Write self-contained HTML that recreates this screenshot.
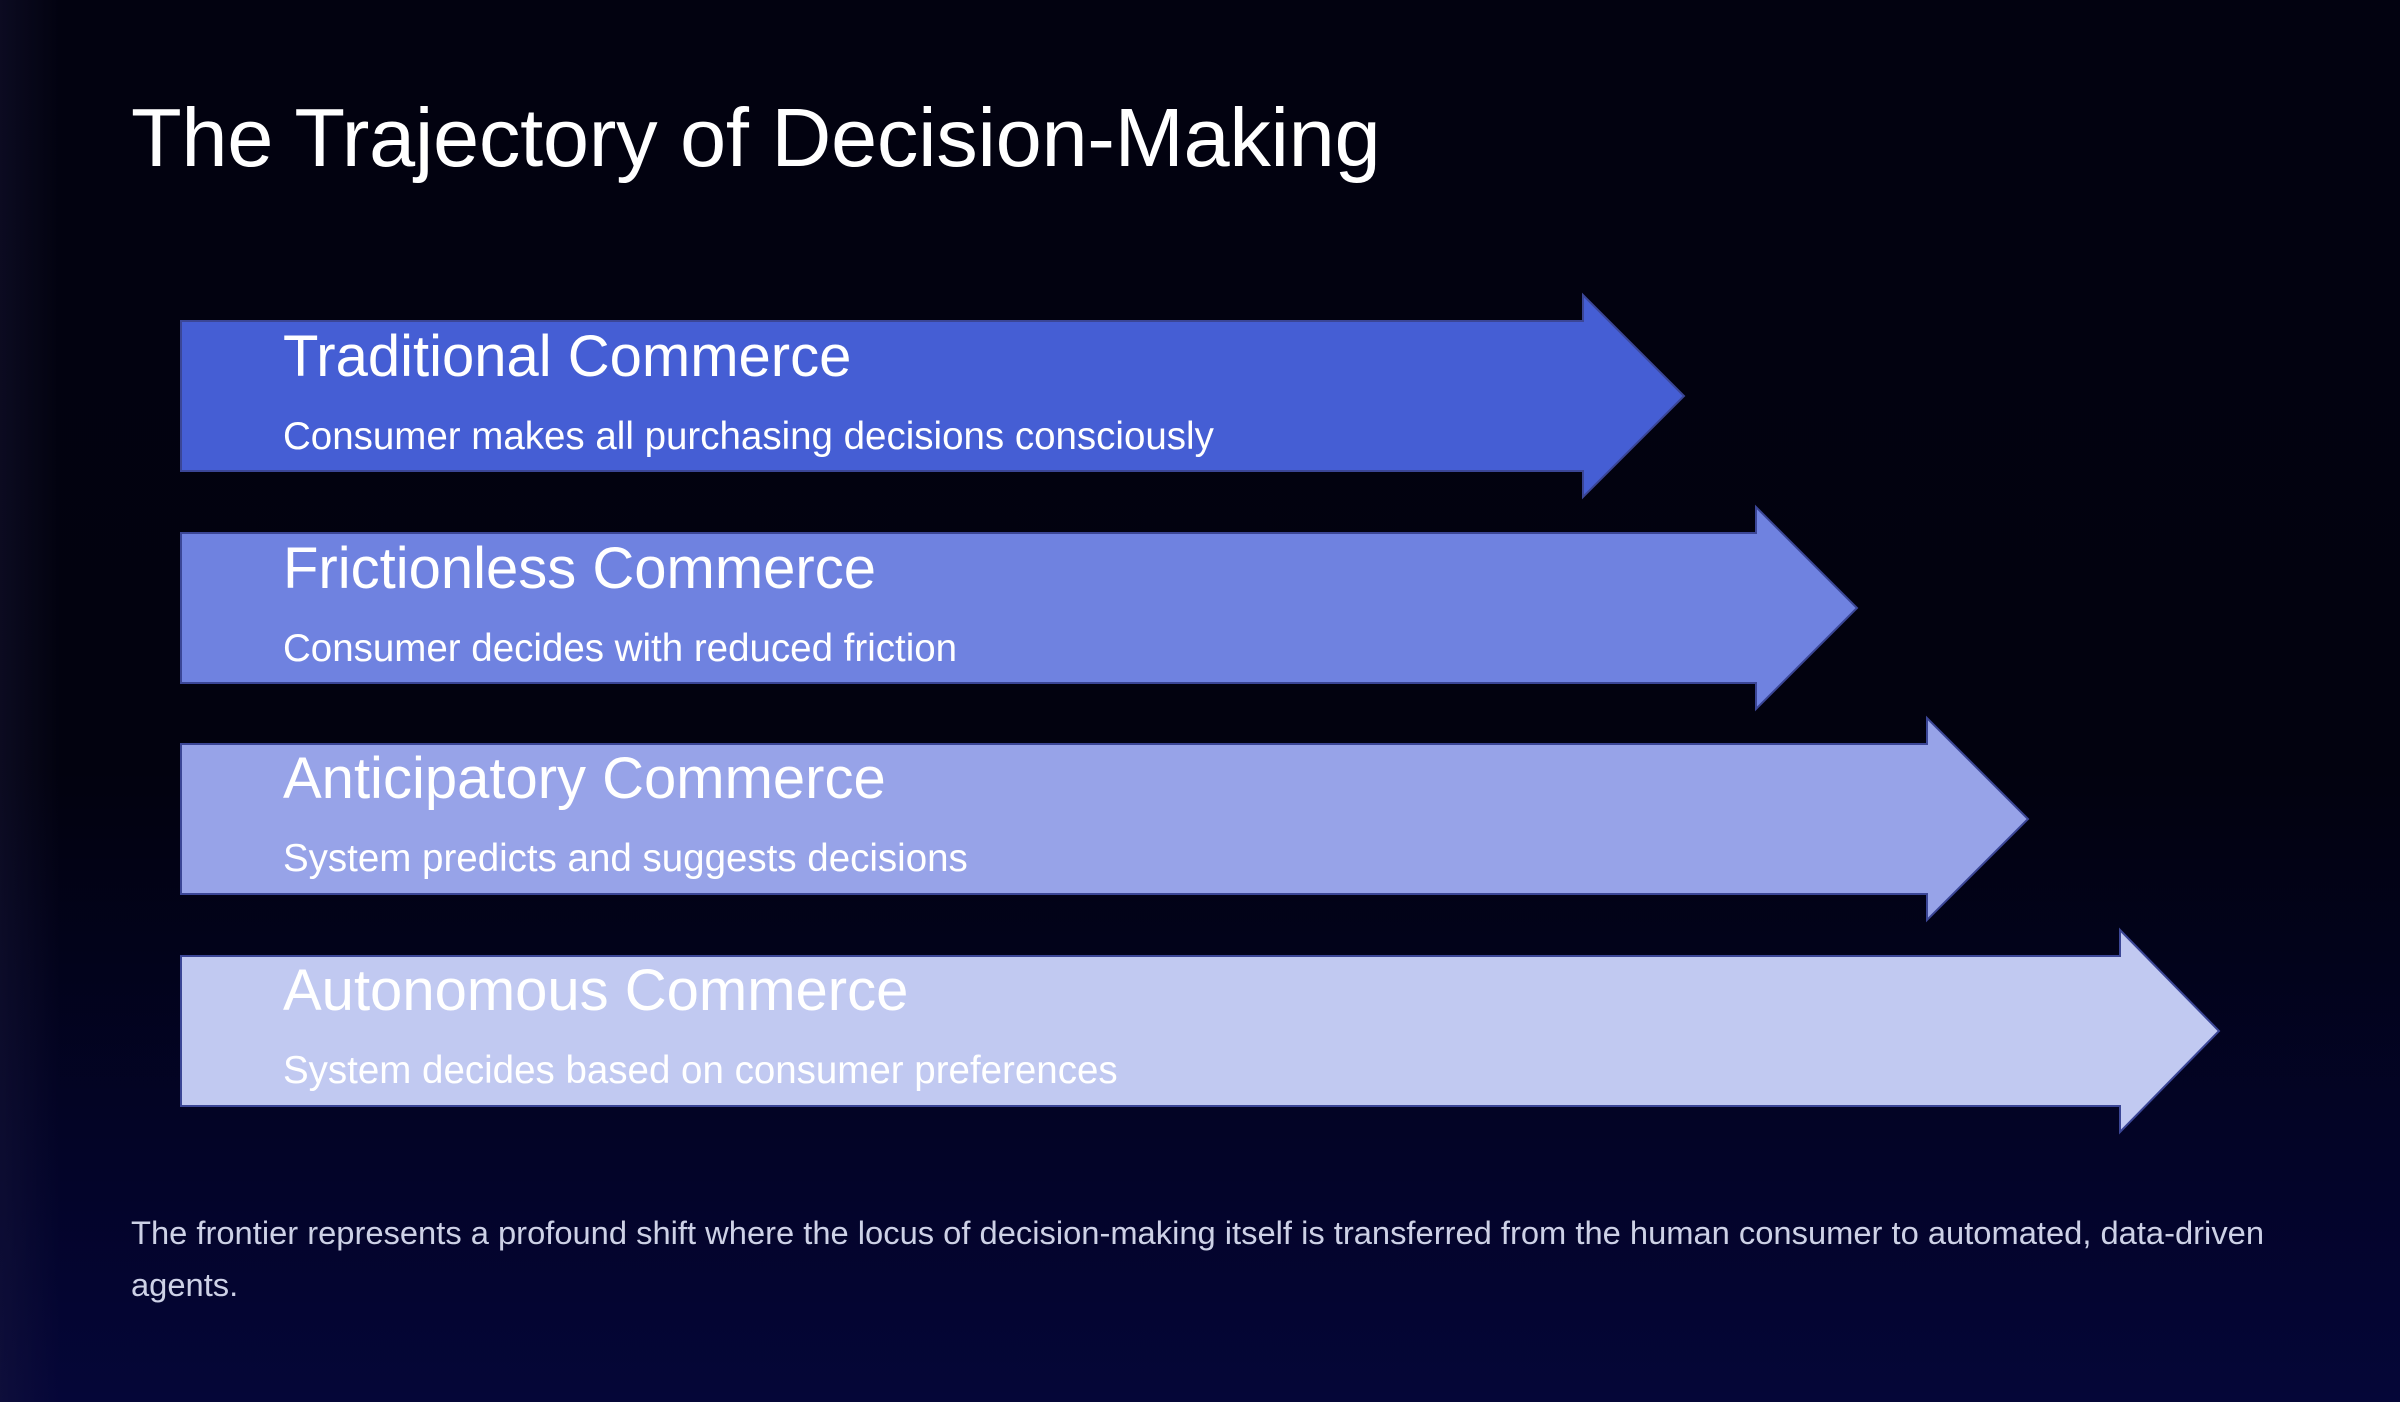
<!DOCTYPE html>
<html><head><meta charset="utf-8"><style>
html,body{margin:0;padding:0}
body{width:2400px;height:1402px;overflow:hidden;position:relative;font-family:"Liberation Sans",sans-serif;
background:linear-gradient(180deg,#020210 0%,#02020f 55%,#03042a 85%,#050638 100%);}
.glow{position:absolute;left:0;top:0;width:60px;height:1402px;background:linear-gradient(90deg,rgba(30,28,65,0.35),rgba(20,20,50,0))}
svg{position:absolute;left:0;top:0}
.t{position:absolute;color:#fff;white-space:nowrap}
</style></head><body>
<div class="glow"></div>
<div class="t" style="left:131px;top:90px;font-size:83px;font-weight:500;letter-spacing:-0.3px">The Trajectory of Decision-Making</div>
<svg width="2400" height="1402">
<g stroke="#3b4696" stroke-width="2">
<polygon fill="#455ed4" points="181,321 1583,321 1583,295 1684,396 1583,497 1583,471 181,471"/>
<polygon fill="#6f82e0" points="181,533 1756,533 1756,507 1857,608 1756,709 1756,683 181,683"/>
<polygon fill="#97a3e8" points="181,744 1927,744 1927,718 2028,819 1927,920 1927,894 181,894"/>
<polygon fill="#c1c9f1" points="181,956 2120,956 2120,930 2219,1031 2120,1132 2120,1106 181,1106"/>
</g>
</svg>
<div class="t" style="left:283px;top:323px;font-size:58px;font-weight:500">Traditional Commerce</div>
<div class="t" style="left:283px;top:415px;font-size:38.5px">Consumer makes all purchasing decisions consciously</div>
<div class="t" style="left:283px;top:535px;font-size:58px;font-weight:500">Frictionless Commerce</div>
<div class="t" style="left:283px;top:627px;font-size:38.5px">Consumer decides with reduced friction</div>
<div class="t" style="left:283px;top:745px;font-size:58px;font-weight:500">Anticipatory Commerce</div>
<div class="t" style="left:283px;top:837px;font-size:38.5px">System predicts and suggests decisions</div>
<div class="t" style="left:283px;top:957px;font-size:58px;font-weight:500">Autonomous Commerce</div>
<div class="t" style="left:283px;top:1049px;font-size:38.5px">System decides based on consumer preferences</div>
<div class="t" style="left:131px;top:1207px;font-size:32.7px;line-height:52px;color:#cdd1e6;white-space:normal;width:2200px">The frontier represents a profound shift where the locus of decision-making itself is transferred from the human consumer to automated, data-driven agents.</div>
</body></html>
